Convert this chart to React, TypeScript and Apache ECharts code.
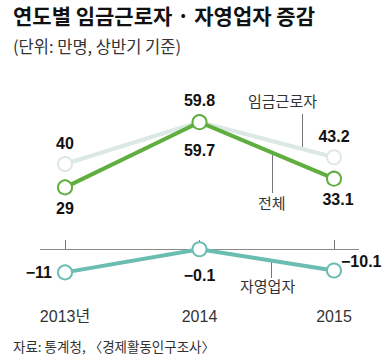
import React, { useEffect, useRef } from "react";
import * as echarts from "echarts";

const years = [2013, 2014, 2015];
const yearLabels = ["2013년", "2014", "2015"];
const wageWorkers = [40, 59.8, 43.2];
const totalEmployed = [29, 59.7, 33.1];
const selfEmployed = [-11, -0.1, -10.1];

const KR = "'Noto Sans CJK KR', 'Noto Sans', sans-serif";
const NUM = "'Liberation Sans', Arial, 'Noto Sans CJK KR', sans-serif";

export default function App() {
  const ref = useRef<HTMLDivElement>(null);
  useEffect(() => {
    if (!ref.current) return;
    const chart = echarts.init(ref.current, null, { renderer: "svg" });
    const pair = (vals: number[]) => years.map((y, i) => [y, vals[i]]);
    const fmt = (p: any) => String(p.value[1]).replace("-", "\u2212");
    const numLabel = { fontFamily: NUM, fontSize: 16, fontWeight: "bold", color: "#111", formatter: fmt };
    const sym = (c: string) => ({ color: "#fff", borderColor: c, borderWidth: 2 });

    const wageColor = "#dbe8e5";
    const totalColor = "#5fae3f";
    const selfColor = "#6bbdb1";

    chart.setOption({
      animation: false,
      backgroundColor: "#fff",
      grid: { left: 40, right: 28, top: 100.3, bottom: 72.5 },
      xAxis: {
        type: "value",
        min: 2012.814,
        max: 2015.186,
        axisLine: { show: false },
        splitLine: { show: false },
        axisTick: {
          show: true,
          inside: true,
          length: 9,
          customValues: years,
          lineStyle: { color: "#777", width: 1 },
        },
        axisLabel: {
          customValues: years,
          margin: 17,
          fontFamily: NUM,
          fontSize: 16,
          color: "#333",
          formatter: (v: number) => yearLabels[years.indexOf(Math.round(v))] ?? "",
        },
      },
      yAxis: {
        type: "value",
        min: -20,
        max: 70,
        show: false,
        splitLine: { show: false },
      },
      series: [
        {
          name: "임금근로자",
          type: "line",
          data: pair(wageWorkers),
          symbol: "circle",
          symbolSize: 14,
          lineStyle: { color: wageColor, width: 4 },
          itemStyle: sym(wageColor),
          label: { show: true, position: "top", distance: 5, ...numLabel },
          z: 2,
        },
        {
          name: "전체",
          type: "line",
          data: pair(totalEmployed).map((d, i) => ({
            value: d,
            label:
              i === 1
                ? { distance: 12 }
                : i === 2
                ? { offset: [4, 0] }
                : {},
          })),
          symbol: "circle",
          symbolSize: 14,
          lineStyle: { color: totalColor, width: 4 },
          itemStyle: sym(totalColor),
          label: { show: true, position: "bottom", distance: 5, ...numLabel },
          z: 3,
        },
        {
          name: "자영업자",
          type: "line",
          data: pair(selfEmployed).map((d, i) => ({
            value: d,
            label:
              i === 0
                ? { position: "left", distance: 5 }
                : i === 1
                ? { position: "bottom", distance: 10 }
                : { position: "right", distance: 0, offset: [-1, -9] },
          })),
          symbol: "circle",
          symbolSize: 14,
          lineStyle: { color: selfColor, width: 4 },
          itemStyle: sym(selfColor),
          label: { show: true, ...numLabel },
          markLine: {
            silent: true,
            symbol: ["none", "none"],
            label: { show: false },
            lineStyle: { color: "#8a8a8a", width: 1, type: "solid" },
            data: [{ yAxis: 0 }],
            z: 1,
          },
          z: 3,
        },
      ],
      graphic: [
        {
          type: "text",
          left: 13,
          top: 4,
          style: { text: "연도별 임금근로자 · 자영업자 증감", fontFamily: KR, fontSize: 21, fontWeight: "bold", fill: "#111" },
        },
        {
          type: "text",
          left: 13,
          top: 38,
          style: { text: "(단위: 만명, 상반기 기준)", fontFamily: KR, fontSize: 16.5, fill: "#333" },
        },
        {
          type: "text",
          left: 13,
          top: 339,
          style: { text: "자료: 통계청, 〈경제활동인구조사〉", fontFamily: KR, fontSize: 13.5, fill: "#333" },
        },
        {
          type: "text",
          left: 248,
          top: 93,
          style: { text: "임금근로자", fontFamily: KR, fontSize: 15, fill: "#333" },
        },
        { type: "line", shape: { x1: 302.5, y1: 114, x2: 302.5, y2: 148 }, style: { stroke: "#777", lineWidth: 1 } },
        {
          type: "text",
          left: 258,
          top: 195,
          style: { text: "전체", fontFamily: KR, fontSize: 15, fill: "#333" },
        },
        { type: "line", shape: { x1: 272.5, y1: 155, x2: 272.5, y2: 193 }, style: { stroke: "#777", lineWidth: 1 } },
        {
          type: "text",
          left: 240,
          top: 278,
          style: { text: "자영업자", fontFamily: KR, fontSize: 15, fill: "#333" },
        },
        { type: "line", shape: { x1: 271.5, y1: 262, x2: 271.5, y2: 278 }, style: { stroke: "#777", lineWidth: 1 } },
      ],
    });
    return () => chart.dispose();
  }, []);
  return (
    <div
      ref={ref}
      style={{ position: "absolute", left: 0, top: 0, width: 387, height: 364, background: "#fff" }}
    />
  );
}
